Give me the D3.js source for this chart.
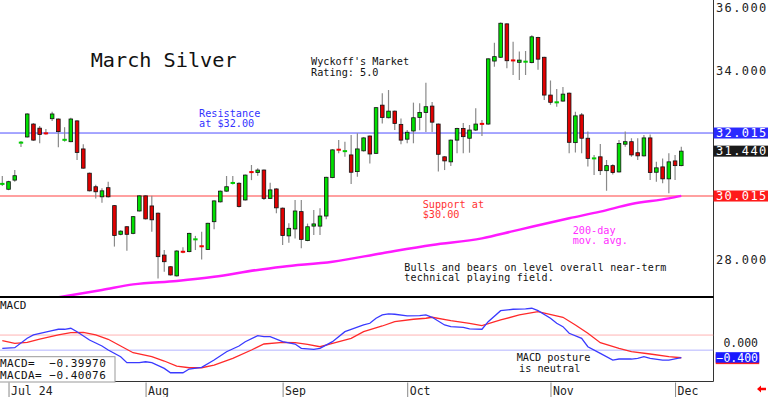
<!DOCTYPE html>
<html><head><meta charset="utf-8">
<script src="https://cdn.jsdelivr.net/npm/d3@7"></script>
<style>
html,body{margin:0;padding:0;background:#fff;overflow:hidden}
svg{display:block}
text{font-family:"DejaVu Sans Mono",monospace}
</style></head><body>
<svg id="c" width="768" height="397"></svg>
<script>
// ---------- DATA ----------
const dates = ["2024-06-28",
"2024-07-01","2024-07-02","2024-07-03","2024-07-05","2024-07-08","2024-07-09","2024-07-10","2024-07-11","2024-07-12","2024-07-15","2024-07-16","2024-07-17","2024-07-18","2024-07-19","2024-07-22","2024-07-23","2024-07-24","2024-07-25","2024-07-26","2024-07-29","2024-07-30","2024-07-31",
"2024-08-01","2024-08-02","2024-08-05","2024-08-06","2024-08-07","2024-08-08","2024-08-09","2024-08-12","2024-08-13","2024-08-14","2024-08-15","2024-08-16","2024-08-19","2024-08-20","2024-08-21","2024-08-22","2024-08-23","2024-08-26","2024-08-27","2024-08-28","2024-08-29","2024-08-30",
"2024-09-03","2024-09-04","2024-09-05","2024-09-06","2024-09-09","2024-09-10","2024-09-11","2024-09-12","2024-09-13","2024-09-16","2024-09-17","2024-09-18","2024-09-19","2024-09-20","2024-09-23","2024-09-24","2024-09-25","2024-09-26","2024-09-27","2024-09-30",
"2024-10-01","2024-10-02","2024-10-03","2024-10-04","2024-10-07","2024-10-08","2024-10-09","2024-10-10","2024-10-11","2024-10-14","2024-10-15","2024-10-16","2024-10-17","2024-10-18","2024-10-21","2024-10-22","2024-10-23","2024-10-24","2024-10-25","2024-10-28","2024-10-29","2024-10-30","2024-10-31",
"2024-11-01","2024-11-04","2024-11-05","2024-11-06","2024-11-07","2024-11-08","2024-11-11","2024-11-12","2024-11-13","2024-11-14","2024-11-15","2024-11-18","2024-11-19","2024-11-20","2024-11-21","2024-11-22","2024-11-25","2024-11-26","2024-11-27","2024-11-29",
"2024-12-02","2024-12-03"];

const open  = [30.38,30.23,30.52,31.68,31.89,32.30,32.17,32.03,32.47,32.46,31.77,31.74,32.40,31.51,30.74,30.31,29.99,30.28,29.71,28.80,
29.04,28.83,29.54,30.02,29.70,29.47,28.14,27.77,27.48,28.27,28.25,28.61,28.45,28.32,29.20,29.83,30.17,30.40,30.42,29.89,
30.79,30.76,30.84,29.94,30.24,29.63,28.75,28.97,29.52,28.60,29.06,29.06,29.38,30.60,31.50,31.43,31.32,30.79,31.45,31.92,
31.37,32.90,32.50,32.71,32.29,31.82,32.08,32.51,32.67,32.87,32.30,31.26,31.10,31.79,32.16,31.85,32.11,32.32,32.30,34.30,
34.42,35.48,34.33,34.26,34.27,34.25,35.05,34.42,33.22,32.98,33.03,33.28,31.71,32.59,31.85,31.18,31.26,30.82,30.98,30.78,
31.66,31.74,31.39,31.29,31.86,30.77,30.94,30.56,31.13,30.98];
const high  = [30.65,30.50,30.84,31.76,32.64,32.33,32.24,32.14,32.69,32.48,32.20,32.50,32.42,31.66,30.76,30.37,30.26,30.47,29.73,28.93,
29.06,29.38,30.04,30.04,30.02,29.49,28.30,27.79,28.29,28.39,28.85,28.75,28.88,29.17,29.88,30.19,30.65,30.65,30.45,30.70,
31.00,30.90,30.86,30.44,30.26,29.65,29.15,29.89,29.89,29.14,29.57,29.63,30.63,31.50,31.79,31.74,31.95,32.01,31.88,31.94,
32.84,33.28,33.38,32.73,32.48,32.11,32.98,32.96,33.61,33.00,32.32,31.28,31.81,32.18,32.33,32.27,32.80,32.43,34.39,34.88,
35.52,35.50,34.91,34.60,34.62,35.12,35.07,34.44,33.68,33.41,33.48,33.30,32.69,32.65,32.06,31.32,31.67,31.16,31.02,31.79,
32.06,31.85,31.85,31.95,31.97,31.10,31.21,31.37,31.32,31.58];
const low   = [30.33,30.20,30.47,31.57,31.87,31.77,31.69,31.96,32.40,31.56,31.74,31.72,31.16,30.88,30.16,29.94,29.80,29.97,28.41,28.77,
28.28,28.80,29.52,29.27,28.88,27.40,27.61,27.49,27.46,28.20,28.23,28.30,28.00,28.30,28.96,29.81,30.15,30.38,29.65,29.87,
30.52,30.66,29.89,29.92,29.47,28.46,28.53,28.67,28.36,28.58,28.78,28.78,29.28,30.58,31.37,31.26,30.40,30.63,31.43,31.05,
31.35,32.32,32.48,32.11,31.66,31.69,31.69,32.10,32.05,32.05,30.79,30.84,30.97,31.37,31.37,31.39,32.08,31.92,32.28,34.12,
34.40,34.07,33.86,33.70,33.86,34.23,34.02,33.06,32.91,32.85,33.01,31.37,31.40,31.37,30.95,30.68,30.68,30.18,30.70,30.76,
31.58,31.26,31.16,31.27,30.52,30.47,30.42,30.10,30.52,30.96];
const close = [30.42,30.47,30.66,31.74,32.62,31.79,31.97,31.98,32.62,32.06,31.83,32.46,31.40,30.90,30.18,30.15,30.18,29.99,28.76,28.90,
28.80,29.36,30.02,29.29,29.26,28.09,27.93,27.51,28.27,28.22,28.83,28.67,28.39,29.15,29.86,30.17,30.31,30.46,29.68,30.68,
30.76,30.84,29.94,30.21,29.64,28.76,28.99,29.54,28.64,29.04,29.13,29.38,30.61,31.48,31.47,31.45,30.77,31.51,31.86,31.35,
32.82,32.51,32.71,32.32,31.79,32.04,32.50,32.67,32.85,32.36,31.34,31.13,31.79,32.16,31.90,32.11,32.30,32.29,34.37,34.44,
35.50,34.31,34.31,34.33,34.29,35.07,34.36,33.22,32.99,33.00,33.25,31.72,32.56,31.85,31.21,31.24,30.82,30.98,30.76,31.68,
31.74,31.32,31.29,31.86,30.76,30.91,30.56,31.10,30.98,31.44];

// 200-day moving average, read at these trading-day numbers (index into dates)
const maDay    = [9, 16, 21, 28, 34, 41, 45, 53, 61, 69, 77, 82, 85, 91, 96, 101, 107, 109];
const maValues = [26.80,27.03,27.21,27.32,27.45,27.67,27.77,27.93,28.20,28.46,28.67,28.90,29.04,29.31,29.52,29.76,29.94,30.02];

// MACD (blue) readings
const macdDay = [0,2,4,5,8,9,10,11,12,14,16,17,19,20,22,23,24,26,27,29,30,32,34,36,38,39,41,42,43,45,47,48,50,51,53,55,56,58,59,60,61,62,63,65,67,68,69,71,72,74,75,77,78,80,82,84,85,86,88,89,90,91,93,94,96,98,99,101,102,103,104,106,107,109];
const macdValues = [-0.151,-0.135,0.114,0.202,0.316,0.353,0.353,0.379,0.289,0.069,-0.090,-0.196,-0.374,-0.533,-0.533,-0.507,-0.533,-0.682,-0.798,-0.798,-0.700,-0.655,-0.462,-0.241,-0.090,0.024,0.183,0.156,0.156,0.024,-0.037,-0.151,-0.178,-0.151,0.024,0.289,0.353,0.467,0.512,0.645,0.732,0.759,0.751,0.706,0.714,0.732,0.671,0.467,0.422,0.406,0.361,0.353,0.554,0.846,0.883,0.891,0.910,0.846,0.645,0.512,0.422,0.247,0.114,-0.109,-0.284,-0.462,-0.435,-0.435,-0.416,-0.374,-0.416,-0.462,-0.462,-0.39970];
// MACDA (red signal) readings
const signalDay = [0,2,4,6,9,11,13,15,17,19,21,24,26,28,30,32,34,37,40,42,45,47,49,51,53,56,58,61,63,66,68,69,72,75,77,80,83,86,90,92,94,96,99,101,104,107,109];
const signalValues = [0.050,-0.019,0.008,0.095,0.202,0.263,0.273,0.202,0.088,-0.090,-0.268,-0.374,-0.488,-0.621,-0.666,-0.666,-0.594,-0.416,-0.196,-0.037,0.008,-0.003,-0.045,-0.109,-0.019,0.114,0.289,0.440,0.554,0.618,0.645,0.671,0.581,0.512,0.448,0.599,0.732,0.820,0.671,0.467,0.247,-0.003,-0.151,-0.241,-0.302,-0.374,-0.40076];

const priceTicks = [28, 30, 32, 34, 36];
const macdTicks = [0];
const macdGuides = [0.2, -0.2];
const monthTickDates  = ["2024-07-01","2024-08-01","2024-09-03","2024-10-01","2024-11-01","2024-12-02"];
const monthTickLabels = ["Jul 24","Aug","Sep","Oct","Nov","Dec"];
const resistance = 32.015, support = 30.015, lastPrice = 31.44;
const macdLast = -0.39970, macdaLast = -0.40076;

// ---------- DRAW ----------
const svg = d3.select("#c");
const PR = 713.5, MAIN_B = 297, MACD_B = 381.5;
const x = d3.scalePoint().domain(dates).range([2.3, 681.3]);
const y = d3.scaleLinear().domain([28, 36]).range([259.5, 7.5]);
const ym = d3.scaleLinear().domain([-0.4, 0]).range([357.7, 342.6]);
const fmt3 = d3.format(".3f");

const defs = svg.append("defs");
defs.append("clipPath").attr("id","cm").append("rect").attr("x",0).attr("y",0).attr("width",PR).attr("height",MAIN_B-1);
defs.append("clipPath").attr("id","cd").append("rect").attr("x",0).attr("y",MAIN_B+1).attr("width",PR).attr("height",MACD_B-MAIN_B-1.5);

const gm = svg.append("g").attr("clip-path","url(#cm)");
// reference lines
gm.append("line").attr("x1",0).attr("x2",PR).attr("y1",y(support)).attr("y2",y(support))
  .attr("stroke","#ff8080").attr("stroke-width",1.5);
gm.append("line").attr("x1",0).attr("x2",PR).attr("y1",y(resistance)).attr("y2",y(resistance))
  .attr("stroke","#4d4dff").attr("stroke-width",1);

// moving average
const ma = maDay.map((d,i)=>({d:dates[d], v:maValues[i]}));
gm.append("path").datum(ma)
  .attr("d", d3.line().curve(d3.curveMonotoneX).x(p=>x(p.d)).y(p=>y(p.v)))
  .attr("fill","none").attr("stroke","#ff1aff").attr("stroke-width",2.5);

// candles
const candles = dates.map((d,i)=>({d, o:open[i], h:high[i], l:low[i], c:close[i]}));
gm.selectAll("line.w").data(candles).join("line").attr("class","w")
  .attr("x1",c=>x(c.d)).attr("x2",c=>x(c.d))
  .attr("y1",c=>y(c.h)).attr("y2",c=>y(c.l))
  .attr("stroke","#8a8a8a").attr("stroke-width",1.2);
const bw = 4.4;
gm.selectAll("rect.b").data(candles).join("rect").attr("class","b")
  .each(function(c){
    const top = y(Math.max(c.o,c.c)), bot = y(Math.min(c.o,c.c));
    const h = bot-top;
    const up = c.c >= c.o;
    const r = d3.select(this);
    if (h < 2.2) {
      r.attr("x",x(c.d)-bw/2).attr("y",(top+bot)/2-1).attr("width",bw).attr("height",2)
       .attr("fill", up ? "#00cc00" : "#ee0000");
    } else {
      r.attr("x",x(c.d)-bw/2+0.4).attr("y",top).attr("width",bw-0.8).attr("height",h)
       .attr("fill", up ? "#00e000" : "#e00000").attr("stroke","#111").attr("stroke-width",0.8);
    }
  });

// frame lines
svg.append("line").attr("x1",PR).attr("x2",PR).attr("y1",0).attr("y2",MACD_B).attr("stroke","#333").attr("stroke-width",1);
svg.append("line").attr("x1",0).attr("x2",PR).attr("y1",MAIN_B).attr("y2",MAIN_B).attr("stroke","#000").attr("stroke-width",2);
svg.append("line").attr("x1",0).attr("x2",PR).attr("y1",MACD_B).attr("y2",MACD_B).attr("stroke","#333").attr("stroke-width",1);

// price axis labels
svg.selectAll("text.pt").data(priceTicks).join("text").attr("class","pt")
  .attr("x",716).attr("y",v=>y(v)).attr("dy","0.36em")
  .attr("font-size",12).attr("letter-spacing",1.4).attr("fill","#222").text(v=>fmt3(v));
function box(v, fill, yy){
  svg.append("rect").attr("x",PR).attr("y",yy-5.5).attr("width",768-PR).attr("height",11).attr("fill",fill);
  svg.append("text").attr("x",716).attr("y",yy).attr("dy","0.36em").attr("font-size",12)
    .attr("letter-spacing",1.4).attr("fill","#fff").text(fmt3(v));
}
box(resistance, "#2a2aff", y(resistance));
box(lastPrice, "#1a1a1a", y(lastPrice));
box(support, "#ff1a1a", y(support));

// annotations
const ann = (t, xx, yy, fs, col) => svg.append("text").attr("x",xx).attr("y",yy).attr("font-size",fs).attr("fill",col||"#111").text(t);
ann("March Silver", 90.7, 67, 20.2);
ann("Wyckoff's Market", 311, 65, 10.2);
ann("Rating: 5.0", 311, 75.5, 10.2);
ann("Resistance", 199, 117, 10.2, "#3333ff");
ann("at $32.00", 199, 127, 10.2, "#3333ff");
ann("Support at", 422.7, 207.5, 10.2, "#ff3333");
ann("$30.00", 422.7, 217.5, 10.2, "#ff3333");
ann("200-day", 572.7, 233.5, 10.2, "#ff2eff");
ann("mov. avg.", 572.7, 243.5, 10.2, "#ff2eff");
ann("Bulls and bears on level overall near-term", 404.3, 270.7, 10).attr("letter-spacing",0.22);
ann("technical playing field.", 404.3, 281, 10).attr("letter-spacing",0.22);

// MACD panel
const gd = svg.append("g").attr("clip-path","url(#cd)");
gd.selectAll("line.g").data(macdGuides).join("line").attr("class","g")
  .attr("x1",0).attr("x2",PR).attr("y1",v=>ym(v)).attr("y2",v=>ym(v))
  .attr("stroke",v=>v>0?"#ffb3b3":"#b3b3ff").attr("stroke-width",1);
const sig = signalDay.map((d,i)=>({d:dates[d], v:signalValues[i]}));
const mac = macdDay.map((d,i)=>({d:dates[d], v:macdValues[i]}));
const ml = d3.line().x(p=>x(p.d)).y(p=>ym(p.v));
gd.append("path").datum(sig).attr("d",ml).attr("fill","none").attr("stroke","#ff2a2a").attr("stroke-width",1.3);
gd.append("path").datum(mac).attr("d",ml).attr("fill","none").attr("stroke","#3a3aff").attr("stroke-width",1.3);

ann("MACD", 0, 309, 11);
svg.append("rect").attr("x",-1).attr("y",356.7).attr("width",116).attr("height",25.3).attr("fill","#fff").attr("stroke","#999");
ann("MACD=", 0, 366.7, 11).attr("letter-spacing",0.4);
ann(d3.format(".5f")(macdLast), 49.3, 366.7, 11).attr("letter-spacing",0.5);
ann("MACDA=", 0, 379.3, 11).attr("letter-spacing",0.4);
ann(d3.format(".5f")(macdaLast), 49.3, 379.3, 11).attr("letter-spacing",0.5);
ann("MACD posture", 516.7, 361, 10.2);
ann("is neutral", 519, 371.5, 10.2);

// MACD axis labels
svg.selectAll("text.mt").data(macdTicks).join("text").attr("class","mt")
  .attr("x",758).attr("y",v=>ym(v)).attr("dy","0.36em").attr("text-anchor","end")
  .attr("font-size",11.5).attr("fill","#222").text(v=>fmt3(v));
svg.append("rect").attr("x",715.7).attr("y",ym(macdaLast)-3.6).attr("width",43.5).attr("height",10).attr("fill","#ff2020");
svg.append("rect").attr("x",715.7).attr("y",ym(macdLast)-5.5).attr("width",43.5).attr("height",10.5).attr("fill","#1a1aff");
svg.append("text").attr("x",758).attr("y",ym(macdLast)).attr("dy","0.36em").attr("text-anchor","end")
  .attr("font-size",11.5).attr("fill","#fff").text(fmt3(-0.4));

// x axis month ticks
const mt = monthTickDates.map((d,i)=>({d, t:monthTickLabels[i]}));
svg.selectAll("line.xt").data(mt).join("line").attr("class","xt")
  .attr("x1",m=>x(m.d)+0.5).attr("x2",m=>x(m.d)+0.5).attr("y1",MACD_B+1).attr("y2",397)
  .attr("stroke","#888").attr("stroke-width",1);
svg.selectAll("text.xl").data(mt).join("text").attr("class","xl")
  .attr("x",m=>x(m.d)+2.5).attr("y",394.5).attr("font-size",11.5).attr("fill","#222").text(m=>m.t);

// red arrow
svg.append("path").attr("d","M757,389 L761,385.5 L761,387.8 L766,387.8 L766,390.2 L761,390.2 L761,392.5 Z").attr("fill","#ff0000");
</script>
</body></html>
